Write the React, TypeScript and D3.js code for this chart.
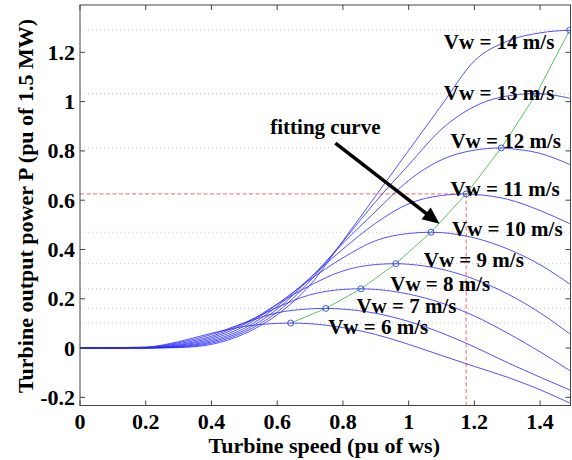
import React from "react";
import * as d3 from "d3";

// ---------- data ----------
const xGrid = [0, 0.2, 0.3, 0.4, 0.5, 0.6, 0.7, 0.8, 0.9, 1.0, 1.1, 1.2, 1.3, 1.4, 1.49];
const windSpeeds = [6, 7, 8, 9, 10, 11, 12, 13, 14];
const peakSpeed = [0.641, 0.748, 0.855, 0.961, 1.068, 1.175, 1.282, 1.389, 1.49];
const peakPower = [0.1015, 0.161, 0.2405, 0.3425, 0.47, 0.6255, 0.812, 1.0325, 1.29];

const p6 = [0, 0.004, 0.026, 0.06, 0.088, 0.1, 0.0988, 0.083, 0.055, 0.015, -0.03, -0.0745, -0.118, -0.169, -0.223];
const p7 = [0, 0.003, 0.022, 0.055, 0.102, 0.143, 0.159, 0.158, 0.141, 0.108, 0.0616, 0.0047, -0.0586, -0.118, -0.17];
const p8 = [0, 0.002, 0.018, 0.048, 0.102, 0.165, 0.216, 0.238, 0.238, 0.219, 0.183, 0.13, 0.0616, -0.0153, -0.091];
const p9 = [0, 0.0015, 0.014, 0.042, 0.097, 0.178, 0.254, 0.313, 0.339, 0.34, 0.32, 0.2795, 0.2205, 0.143, 0.058];
const p10 = [0, 0.001, 0.011, 0.036, 0.089, 0.178, 0.278, 0.366, 0.436, 0.465, 0.4685, 0.447, 0.403, 0.338, 0.26];
const p11 = [0, 0.0007, 0.008, 0.03, 0.08, 0.169, 0.285, 0.4015, 0.507, 0.5855, 0.619, 0.6235, 0.604, 0.558, 0.505];
const p12 = [0, 0.0005, 0.006, 0.025, 0.072, 0.158, 0.283, 0.425, 0.555, 0.68, 0.764, 0.803, 0.81, 0.79, 0.745];
const p13 = [0, 0.0003, 0.004, 0.02, 0.065, 0.146, 0.272, 0.432, 0.595, 0.743, 0.888, 0.98, 1.023, 1.031, 1.014];
const p14 = [0, 0.0002, 0.002, 0.015, 0.058, 0.135, 0.256, 0.435, 0.618, 0.802, 0.985, 1.165, 1.245, 1.279, 1.29];
const powerCurves = [p6, p7, p8, p9, p10, p11, p12, p13, p14];

// label anchors (data units): left x, baseline y
const labelX = [0.755, 0.841, 0.944, 1.046, 1.132, 1.127, 1.127, 1.107, 1.107];
const labelY = [0.058, 0.143, 0.23, 0.3296, 0.453, 0.619, 0.812, 1.0085, 1.213];

const xTicks = [0, 0.2, 0.4, 0.6, 0.8, 1, 1.2, 1.4];
const yTicks = [-0.2, 0, 0.2, 0.4, 0.6, 0.8, 1, 1.2];
const xDomain = [0, 1.4925];
const yDomain = [-0.233, 1.392];

const fitLabel = "fitting curve";
const fitLabelPos = [0.579, 0.869];
const arrowFrom = [0.777, 0.832];
const arrowTo = [1.094, 0.504];
const refIndex = 5; // Vw = 11 m/s operating point

const xTitle = "Turbine speed (pu of ws)";
const yTitle = "Turbine output power P (pu of 1.5 MW)";

// ---------- layout ----------
const W = 572;
const H = 460;
const L = 80;
const R = 570.5;
const T = 5;
const B = 405.5;
const FONT = "'Liberation Serif', 'Times New Roman', serif";

export default function App() {
  const x = d3.scaleLinear().domain(xDomain).range([L, R]);
  const y = d3.scaleLinear().domain(yDomain).range([B, T]);

  const line = d3
    .line<[number, number]>()
    .x((d) => x(d[0]))
    .y((d) => y(d[1]))
    .curve(d3.curveMonotoneX);

  const curveData = powerCurves.map((vals, i) => {
    const pts: [number, number][] = xGrid
      .map((g, j) => [g, vals[j]] as [number, number])
      .filter((p) => Math.abs(p[0] - peakSpeed[i]) > 0.015);
    pts.push([peakSpeed[i], peakPower[i]]);
    pts.sort((a, b) => a[0] - b[0]);
    return pts;
  });

  const peakLine = d3
    .line<number>()
    .x((_, i) => x(peakSpeed[i]))
    .y((d) => y(d));

  // arrow geometry
  const ax0 = x(arrowFrom[0]);
  const ay0 = y(arrowFrom[1]);
  const ax1 = x(arrowTo[0]);
  const ay1 = y(arrowTo[1]);
  const dx = ax1 - ax0;
  const dy = ay1 - ay0;
  const len = Math.hypot(dx, dy);
  const ux = dx / len;
  const uy = dy / len;
  const headL = 17;
  const headW = 7.5;
  const bx = ax1 - ux * headL;
  const by = ay1 - uy * headL;
  const head = `${ax1},${ay1} ${bx - uy * headW},${by + ux * headW} ${bx + uy * headW},${by - ux * headW}`;

  const tickLen = 5;
  const axisColor = "#444";

  return (
    <div style={{ position: "absolute", left: 0, top: 0, width: W, height: H, background: "#fff" }}>
      <svg width={W} height={H} style={{ display: "block" }}>
        <defs>
          <clipPath id="plotClip">
            <rect x={L} y={T} width={R - L} height={B - T} />
          </clipPath>
        </defs>
        <rect x={0} y={0} width={W} height={H} fill="#fff" />

        {/* dotted peak-level lines */}
        {peakPower.map((p, i) =>
          i === refIndex ? null : (
            <line
              key={"dot" + i}
              x1={L}
              x2={R}
              y1={y(p)}
              y2={y(p)}
              stroke="#c4c4e4"
              strokeWidth={1}
              strokeDasharray="1 3"
            />
          )
        )}

        {/* red dashed reference lines */}
        <line
          x1={x(0)}
          x2={x(peakSpeed[refIndex])}
          y1={y(peakPower[refIndex])}
          y2={y(peakPower[refIndex])}
          stroke="#ff6060"
          strokeWidth={1}
          strokeDasharray="4 2.5"
        />
        <line
          x1={x(peakSpeed[refIndex])}
          x2={x(peakSpeed[refIndex])}
          y1={y(peakPower[refIndex])}
          y2={B}
          stroke="#ff6060"
          strokeWidth={1}
          strokeDasharray="4 2.5"
        />

        {/* power curves */}
        <g clipPath="url(#plotClip)">
          {curveData.map((pts, i) => (
            <path key={"c" + i} d={line(pts) || ""} fill="none" stroke="#2626ff" strokeWidth={0.8} />
          ))}
          <path d={peakLine(peakPower) || ""} fill="none" stroke="#33b033" strokeWidth={0.8} />
          {peakPower.map((p, i) => (
            <circle key={"pk" + i} cx={x(peakSpeed[i])} cy={y(p)} r={3} fill="none" stroke="#2626ff" strokeWidth={0.8} />
          ))}
        </g>

        {/* axes box */}
        <rect x={L} y={T} width={R - L} height={B - T} fill="none" stroke={axisColor} strokeWidth={1} />
        {xTicks.map((t) => (
          <g key={"xt" + t}>
            <line x1={x(t)} x2={x(t)} y1={B} y2={B - tickLen} stroke={axisColor} />
            <line x1={x(t)} x2={x(t)} y1={T} y2={T + tickLen} stroke={axisColor} />
            <text
              x={x(t)}
              y={428.5}
              textAnchor="middle"
              fontFamily={FONT}
              fontWeight="bold"
              fontSize={22}
              fill="#000"
            >
              {String(t)}
            </text>
          </g>
        ))}
        {yTicks.map((t) => (
          <g key={"yt" + t}>
            <line x1={L} x2={L + tickLen} y1={y(t)} y2={y(t)} stroke={axisColor} />
            <line x1={R} x2={R - tickLen} y1={y(t)} y2={y(t)} stroke={axisColor} />
            <text
              x={75}
              y={y(t) + 7.5}
              textAnchor="end"
              fontFamily={FONT}
              fontWeight="bold"
              fontSize={22}
              fill="#000"
            >
              {String(t)}
            </text>
          </g>
        ))}

        {/* axis titles */}
        <text
          x={(L + R) / 2 - 1}
          y={453}
          textAnchor="middle"
          fontFamily={FONT}
          fontWeight="bold"
          fontSize={22}
          fill="#000"
        >
          {xTitle}
        </text>
        <text
          transform={`translate(33, ${206}) rotate(-90)`}
          textAnchor="middle"
          fontFamily={FONT}
          fontWeight="bold"
          fontSize={22}
          fill="#000"
        >
          {yTitle}
        </text>

        {/* curve labels */}
        {windSpeeds.map((v, i) => (
          <text
            key={"lab" + v}
            x={x(labelX[i])}
            y={y(labelY[i])}
            fontFamily={FONT}
            fontWeight="bold"
            fontSize={21}
            fill="#000"
          >
            {`Vw = ${v} m/s`}
          </text>
        ))}

        {/* fitting curve annotation */}
        <text
          x={x(fitLabelPos[0])}
          y={y(fitLabelPos[1])}
          fontFamily={FONT}
          fontWeight="bold"
          fontSize={21}
          fill="#000"
        >
          {fitLabel}
        </text>
        <line x1={ax0} y1={ay0} x2={bx + ux * 2} y2={by + uy * 2} stroke="#000" strokeWidth={3.5} />
        <polygon points={head} fill="#000" />
      </svg>
    </div>
  );
}
